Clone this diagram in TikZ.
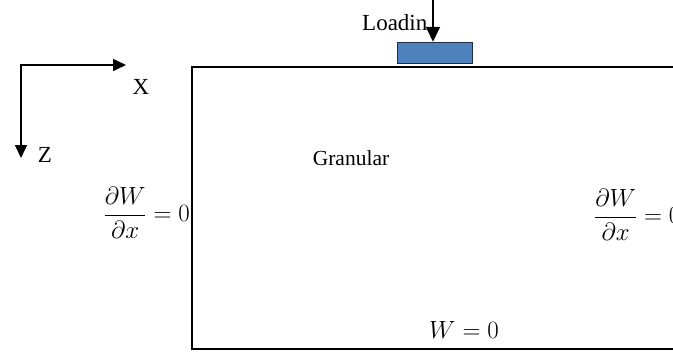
\documentclass[tikz,border=0pt]{standalone}
\usepackage{fontspec}
\setmainfont{Liberation Serif}
\usetikzlibrary{arrows.meta}
\definecolor{loadblue}{HTML}{4F81BD}
\definecolor{loadedge}{HTML}{1F2F45}
\tikzset{
  axisline/.style={line width=1.6pt, -{Triangle[length=13pt,width=12pt]}},
  loadarrow/.style={line width=1.6pt, -{Triangle[length=15pt,width=14pt]}},
  border/.style={line width=1.8pt},
  lbl/.style={inner sep=0pt, font=\fontsize{23}{27}\selectfont},
  mathlbl/.style={inner sep=0pt, font=\fontsize{24}{29}\selectfont},
}
\begin{document}
\begin{tikzpicture}[x=1pt,y=-1pt]
\clip (0,0) rectangle (673,354);
\fill[white] (0,0) rectangle (673,354);
% axes
\coordinate (o) at (21,65);
\coordinate (xe) at (126,65);
\coordinate (ze) at (21,158);
\draw[axisline] ([xshift=-0.8pt]o) -- (xe);
\draw[axisline] (o) -- (ze);
\node[lbl] (xl) at (141,87) {X};
\node[lbl] (zl) at (45,155) {Z};
% domain
\coordinate (tl) at (192,67);
\coordinate (tr) at (690,67);
\coordinate (bl) at (192,349);
\coordinate (br) at (690,349);
\draw[border] (tr) -- (tl) -- (bl) -- (br);
% load
\node[draw=loadedge, line width=1.4pt, fill=loadblue, minimum width=75pt, minimum height=21pt, inner sep=0pt] (box) at (435,53) {};
\coordinate (lt) at (433,-2);
\draw[loadarrow] (lt) -- (box.north -| lt);
\node[lbl, anchor=base west] (load) at (362,30) {Loadin};
% labels
\node[lbl, font=\fontsize{21.5}{25}\selectfont] (gran) at (351,158) {Granular};
\node[mathlbl, anchor=base east] (lbc) at (190,221) {$\displaystyle\frac{\partial W}{\partial x}=0$};
\node[mathlbl, anchor=base west] (rbc) at (594,223) {$\displaystyle\frac{\partial W}{\partial x}=0$};
\node[mathlbl] (bbc) at (464,330) {$W=0$};
\end{tikzpicture}
\end{document}
